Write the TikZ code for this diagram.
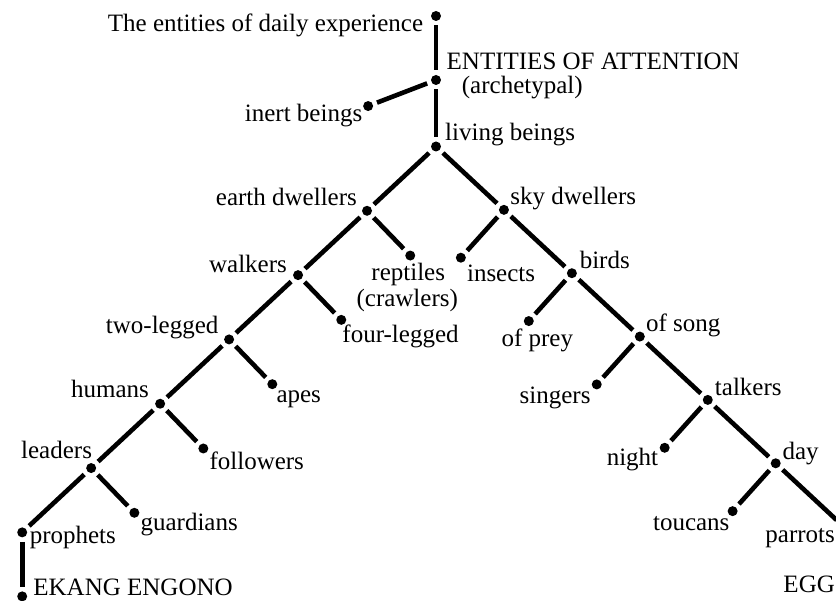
\documentclass[tikz,border=0pt]{standalone}
\usepackage{fontspec}
\setmainfont{Liberation Serif}

\begin{document}
\begin{tikzpicture}[x=1pt, y=1pt, sibling distance=0pt,
  dotnode/.style = {circle, fill, inner sep=0pt, minimum size=10pt, outer sep=4.5pt},
  lbl/.style = {inner sep=0pt, font=\fontsize{25}{27}\selectfont},
  vstem/.style = {grow=down, level distance=#1},
  lspine/.style = {grow=-137, level distance=94.3pt},
  rspine/.style = {grow=-43.3, level distance=92.9pt},
  lside/.style = {grow=-132.7, level distance=64.4pt},
  rside/.style = {grow=-46.9, level distance=62.2pt},
  every child node/.style = {dotnode},
  edge from parent/.style = {draw, line width=4.6pt},
  ]
  \useasboundingbox (0,0) rectangle (836,601);
  \clip (0,0) rectangle (836,601);
  \node[dotnode] (daily) at (436,585) {}
  child[vstem=64pt] { node (attention) {}
    child[grow=-159.9, level distance=72.7pt] { node (inert) {} }
    child[vstem=66.5pt] { node (living) {}
      child[lspine] { node (earth) {}
        child[lspine] { node (walkers) {}
          child[lspine] { node (twolegged) {}
            child[lspine] { node (humans) {}
              child[lspine] { node (leaders) {}
                child[lspine] { node (prophets) {}
                  child[vstem=64pt] { node (ekang) {} }
                }
                child[rside] { node (guardians) {} }
              }
              child[rside] { node (followers) {} }
            }
            child[rside] { node (apes) {} }
          }
          child[rside] { node (fourlegged) {} }
        }
        child[rside] { node (reptiles) {} }
      }
      child[rspine] { node (sky) {}
        child[lside] { node (insects) {} }
        child[rspine] { node (birds) {}
          child[lside] { node (prey) {} }
          child[rspine] { node (song) {}
            child[lside] { node (singers) {} }
            child[rspine] { node (talkers) {}
              child[lside] { node (night) {} }
              child[rspine] { node (day) {}
                child[lside] { node (toucans) {} }
                child[rspine] { node (parrots) {}
                  child[vstem=64pt] { node (egg) {} }
                }
              }
            }
          }
        }
      }
    }
  };

  % labels
  \node[lbl, anchor=base east] (tdaily) at ([shift={(-12.7,-15.7)}]daily) {The entities of daily experience};
  \node[lbl, anchor=base west] (tattention) at ([shift={(10.5,10.5)}]attention) {ENTITIES OF ATTENTION};
  \node[lbl, anchor=base west] (tarchetypal) at ([shift={(25.7,-14)}]attention) {(archetypal)};
  \node[lbl, anchor=base east] (tinert) at ([shift={(-5.7,-15)}]inert) {inert beings};
  \node[lbl, anchor=base west] (tliving) at ([shift={(9,5.5)}]living) {living beings};
  \node[lbl, anchor=base east] (tearth) at ([shift={(-10,5.7)}]earth) {earth dwellers};
  \node[lbl, anchor=base west] (tsky) at ([shift={(6.3,5.7)}]sky) {sky dwellers};
  \node[lbl, anchor=base east] (twalkers) at ([shift={(-11,2.7)}]walkers) {walkers};
  \node[lbl, anchor=base] (treptiles) at ([shift={(-2,-25)}]reptiles) {reptiles};
  \node[lbl, anchor=base] (tcrawlers) at ([shift={(-3,-51)}]reptiles) {(crawlers)};
  \node[lbl, anchor=base west] (tinsects) at ([shift={(6,-23.7)}]insects) {insects};
  \node[lbl, anchor=base west] (tbirds) at ([shift={(7.7,4.7)}]birds) {birds};
  \node[lbl, anchor=base west] (tfour) at ([shift={(1,-23)}]fourlegged) {four-legged};
  \node[lbl, anchor=base east] (ttwo) at ([shift={(-10.5,6.3)}]twolegged) {two-legged};
  \node[lbl, anchor=base] (tprey) at ([shift={(8.5,-25)}]prey) {of prey};
  \node[lbl, anchor=base west] (tsong) at ([shift={(6,4.8)}]song) {of song};
  \node[lbl, anchor=base east] (thumans) at ([shift={(-11,6)}]humans) {humans};
  \node[lbl, anchor=base west] (tapes) at ([shift={(4,-18)}]apes) {apes};
  \node[lbl, anchor=base east] (tsingers) at ([shift={(-6,-18.7)}]singers) {singers};
  \node[lbl, anchor=base west] (ttalkers) at ([shift={(7,4)}]talkers) {talkers};
  \node[lbl, anchor=base east] (tleaders) at ([shift={(1,10)}]leaders) {leaders};
  \node[lbl, anchor=base west] (tfollowers) at ([shift={(6,-21)}]followers) {followers};
  \node[lbl, anchor=base east] (tnight) at ([shift={(-6.3,-17.7)}]night) {night};
  \node[lbl, anchor=base west] (tday) at ([shift={(6.7,3.3)}]day) {day};
  \node[lbl, anchor=base west] (tprophets) at ([shift={(7.4,-11)}]prophets) {prophets};
  \node[lbl, anchor=base west] (tguardians) at ([shift={(6,-18)}]guardians) {guardians};
  \node[lbl, anchor=base east] (ttoucans) at ([shift={(-3,-19)}]toucans) {toucans};
  \node[lbl, anchor=base east] (tparrots) at ([shift={(-8.6,-16.3)}]parrots) {parrots};
  \node[lbl, anchor=base west] (tekang) at ([shift={(11,1)}]ekang) {EKANG ENGONO};
  \node[lbl, anchor=base east] (tegg) at ([shift={(-8.6,-2)}]egg) {EGG};
\end{tikzpicture}
\end{document}
